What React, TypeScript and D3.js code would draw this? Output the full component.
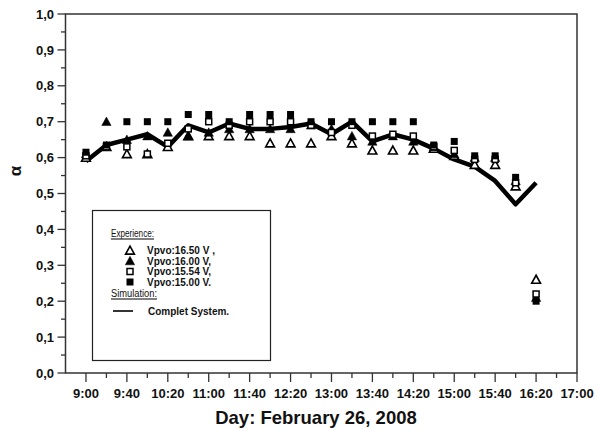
import React, { useEffect, useRef } from "react";
import * as d3 from "d3";

const times = ["9:00","9:20","9:40","10:00","10:20","10:40","11:00","11:20","11:40","12:00","12:20","12:40","13:00","13:20","13:40","14:00","14:20","14:40","15:00","15:20","15:40","16:00","16:20"];
const v1650 = [0.60,0.63,0.61,0.61,0.63,0.66,0.66,0.66,0.66,0.64,0.64,0.64,0.66,0.64,0.62,0.62,0.62,0.625,0.605,0.58,0.58,0.52,0.26];
const v1600 = [0.61,0.70,0.65,0.66,0.67,0.66,0.67,0.68,0.68,0.68,0.68,0.69,0.68,0.66,0.645,0.66,0.645,0.63,0.61,0.60,0.60,0.535,0.21];
const v1554 = [0.605,0.63,0.63,0.61,0.64,0.68,0.70,0.69,0.70,0.70,0.70,0.69,0.67,0.69,0.66,0.665,0.66,0.63,0.62,0.595,0.595,0.53,0.22];
const v1500 = [0.615,0.635,0.70,0.70,0.70,0.72,0.72,0.70,0.72,0.72,0.72,0.70,0.70,0.70,0.70,0.70,0.70,0.635,0.645,0.605,0.605,0.545,0.20];
const simulation = [0.59,0.635,0.65,0.665,0.63,0.69,0.67,0.695,0.68,0.68,0.685,0.695,0.665,0.70,0.645,0.665,0.65,0.625,0.595,0.575,0.535,0.47,0.53];
const xTickLabels = ["9:00","9:40","10:20","11:00","11:40","12:20","13:00","13:40","14:20","15:00","15:40","16:20","17:00"];
const yTickLabels = ["0,0","0,1","0,2","0,3","0,4","0,5","0,6","0,7","0,8","0,9","1,0"];
const legendLabels = ["Vpvo:16.50 V ,","Vpvo:16.00 V,","Vpvo:15.54 V,","Vpvo:15.00 V."];

const toMin = (t: string) => { const [h, m] = t.split(":").map(Number); return h * 60 + m; };

export default function App() {
  const ref = useRef<SVGSVGElement>(null);
  useEffect(() => {
    const svg = d3.select(ref.current);
    svg.selectAll("*").remove();
    const L = 65.5, R = 577, T = 14, B = 373;
    const x = d3.scaleLinear().domain([toMin("8:40"), toMin("17:00")]).range([L, R]);
    const y = d3.scaleLinear().domain([0, 1]).range([B, T]);
    const font = "'Liberation Sans', Arial, sans-serif";
    const ink = "#111";

    // frame
    svg.append("rect").attr("x", L).attr("y", T).attr("width", R - L).attr("height", B - T)
      .attr("fill", "none").attr("stroke", "#333").attr("stroke-width", 1.5);

    // y ticks
    const yMinor = d3.range(0, 21).map(i => i * 0.05);
    yMinor.forEach((v, i) => {
      const major = i % 2 === 0;
      svg.append("line").attr("x1", L - (major ? 8 : 4.5)).attr("x2", L).attr("y1", y(v)).attr("y2", y(v))
        .attr("stroke", "#333").attr("stroke-width", 1.3);
    });
    yTickLabels.forEach((lab, i) => {
      svg.append("text").attr("x", 54).attr("y", y(i / 10)).attr("dy", "0.36em").attr("text-anchor", "end")
        .attr("font-family", font).attr("font-weight", "bold").attr("font-size", 13).attr("fill", ink).text(lab);
    });

    // x ticks
    const xMinorVals = d3.range(toMin("9:00"), toMin("17:00") + 1, 20);
    xMinorVals.forEach((v, i) => {
      const major = i % 2 === 0;
      svg.append("line").attr("x1", x(v)).attr("x2", x(v)).attr("y1", B).attr("y2", B + (major ? 9 : 5))
        .attr("stroke", "#333").attr("stroke-width", 1.3);
    });
    xTickLabels.forEach(lab => {
      svg.append("text").attr("x", x(toMin(lab))).attr("y", 397.5).attr("text-anchor", "middle")
        .attr("font-family", font).attr("font-weight", "bold").attr("font-size", 13).attr("fill", ink).text(lab);
    });

    svg.append("text").attr("x", 316).attr("y", 424).attr("text-anchor", "middle")
      .attr("font-family", font).attr("font-weight", "bold").attr("font-size", 18.5).attr("fill", ink)
      .text("Day: February 26, 2008");
    svg.append("text").attr("transform", `translate(21,171) rotate(-90)`).attr("text-anchor", "middle")
      .attr("font-family", font).attr("font-weight", "bold").attr("font-size", 17).attr("fill", ink).text("α");

    // simulation line
    const line = d3.line<number>().x((_, i) => x(toMin(times[i]))).y(d => y(d));
    svg.append("path").attr("d", line(simulation)).attr("fill", "none").attr("stroke", "#000")
      .attr("stroke-width", 4.5).attr("stroke-linejoin", "round");

    const triPath = (s: number) => `M0,${-s * 0.55}L${s * 0.55},${s * 0.45}L${-s * 0.55},${s * 0.45}Z`;
    const drawMarker = (g: any, kind: string, cx: number, cy: number) => {
      if (kind === "openTri") {
        g.append("path").attr("d", triPath(8)).attr("transform", `translate(${cx},${cy})`)
          .attr("fill", "#fff").attr("stroke", "#000").attr("stroke-width", 1.6);
      } else if (kind === "fillTri") {
        g.append("path").attr("d", triPath(8.5)).attr("transform", `translate(${cx},${cy})`)
          .attr("fill", "#000").attr("stroke", "#000").attr("stroke-width", 0.5);
      } else if (kind === "openSq") {
        g.append("rect").attr("x", cx - 3).attr("y", cy - 3).attr("width", 6).attr("height", 6)
          .attr("fill", "#fff").attr("stroke", "#000").attr("stroke-width", 1.5);
      } else {
        g.append("rect").attr("x", cx - 3.5).attr("y", cy - 3.5).attr("width", 7).attr("height", 7).attr("fill", "#000");
      }
    };
    const series: [number[], string][] = [[v1650, "openTri"], [v1600, "fillTri"], [v1554, "openSq"], [v1500, "fillSq"]];
    series.forEach(([vals, kind]) => {
      const g = svg.append("g");
      vals.forEach((v, i) => drawMarker(g, kind, x(toMin(times[i])), y(v)));
    });

    // legend
    const lg = svg.append("g");
    lg.append("rect").attr("x", 92.5).attr("y", 210.5).attr("width", 178).attr("height", 150)
      .attr("fill", "#fff").attr("stroke", "#222").attr("stroke-width", 1.2);
    lg.append("text").attr("x", 111).attr("y", 236.5).attr("font-family", font).attr("font-size", 10)
      .attr("textLength", 43).attr("lengthAdjust", "spacingAndGlyphs").attr("fill", ink).text("Experience:");
    lg.append("line").attr("x1", 111).attr("x2", 154).attr("y1", 239).attr("y2", 239).attr("stroke", "#000").attr("stroke-width", 1.2);
    const kinds = ["openTri", "fillTri", "openSq", "fillSq"];
    legendLabels.forEach((lab, i) => {
      const cy = 250.5 + i * 10.5;
      drawMarker(lg, kinds[i], 130, cy);
      lg.append("text").attr("x", 147).attr("y", cy).attr("dy", "0.36em").attr("font-family", font)
        .attr("font-weight", "bold").attr("font-size", 10).attr("textLength", i === 0 ? 68 : 64)
        .attr("lengthAdjust", "spacingAndGlyphs").attr("fill", ink).text(lab);
    });
    lg.append("text").attr("x", 111).attr("y", 296.5).attr("font-family", font).attr("font-size", 10)
      .attr("textLength", 46).attr("lengthAdjust", "spacingAndGlyphs").attr("fill", ink).text("Simulation:");
    lg.append("line").attr("x1", 111).attr("x2", 157).attr("y1", 299).attr("y2", 299).attr("stroke", "#000").attr("stroke-width", 1.2);
    lg.append("line").attr("x1", 113).attr("x2", 133).attr("y1", 311).attr("y2", 311).attr("stroke", "#000").attr("stroke-width", 1.6);
    lg.append("text").attr("x", 148).attr("y", 311).attr("dy", "0.36em").attr("font-family", font)
      .attr("font-weight", "bold").attr("font-size", 10).attr("fill", ink).text("Complet System.");
  }, []);
  return <svg ref={ref} width={597} height={430} style={{ position: "absolute", left: 0, top: 0, background: "#fff" }} />;
}
